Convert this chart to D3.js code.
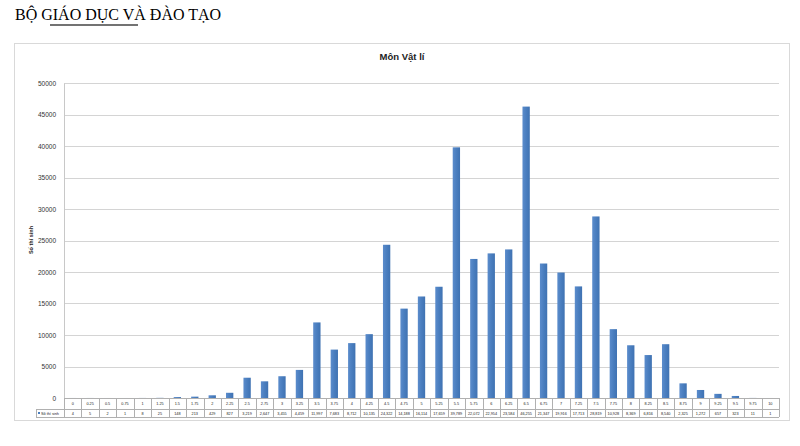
<!DOCTYPE html>
<html><head><meta charset="utf-8">
<script src="https://cdn.jsdelivr.net/npm/d3@7"></script>
<style>body{margin:0;background:#fff;}svg{display:block;}</style>
</head><body>
<svg id="c" width="800" height="446"></svg>
<script>
const categories = ["0","0.25","0.5","0.75","1","1.25","1.5","1.75","2","2.25","2.5","2.75","3","3.25","3.5","3.75","4","4.25","4.5","4.75","5","5.25","5.5","5.75","6","6.25","6.5","6.75","7","7.25","7.5","7.75","8","8.25","8.5","8.75","9","9.25","9.5","9.75","10"];
const counts = [4,5,2,1,8,25,148,213,429,827,3219,2647,3455,4459,11997,7683,8712,10135,24322,14188,16114,17659,39789,22072,22954,23584,46255,21347,19916,17713,28819,10928,8369,6816,8540,2325,1272,657,323,11,1];
const yTicks = [0,5000,10000,15000,20000,25000,30000,35000,40000,45000,50000];
const seriesName = "Số thí sinh";
const chartTitle = "Môn Vật lí";
const header = "BỘ GIÁO DỤC VÀ ĐÀO TẠO";

const svg = d3.select("#c");
const pLeft = 64, pRight = 779, pTop = 83, pBottom = 398;

// header
svg.append("text").attr("x", 15).attr("y", 20).attr("font-family", "Liberation Serif, serif")
  .attr("font-size", 16).attr("fill", "#000").text(header);
svg.append("line").attr("x1", 50).attr("x2", 138).attr("y1", 25).attr("y2", 25)
  .attr("stroke", "#444").attr("stroke-width", 1.3);

// chart box
svg.append("rect").attr("x", 14.5).attr("y", 43.5).attr("width", 775).attr("height", 377)
  .attr("fill", "#fff").attr("stroke", "#d9d9d9").attr("stroke-width", 1);

svg.append("text").attr("x", 402).attr("y", 60).attr("text-anchor", "middle")
  .attr("font-family", "Liberation Sans, Arial, sans-serif").attr("font-size", 9.5)
  .attr("font-weight", "bold").attr("fill", "#222").text(chartTitle);

const x = d3.scaleBand().domain(categories).range([pLeft, pRight]).paddingInner(0.58).paddingOuter(0.29);
const xb = d3.scaleBand().domain(categories).range([pLeft, pRight]);
const y = d3.scaleLinear().domain([0, 50000]).range([pBottom, pTop]);

// gridlines
svg.append("g").selectAll("line").data(yTicks).join("line")
  .attr("x1", pLeft).attr("x2", pRight)
  .attr("y1", d => Math.round(y(d)) + 0.5).attr("y2", d => Math.round(y(d)) + 0.5)
  .attr("stroke", "#d4d4d4").attr("stroke-width", 1);

// y axis
const yAxis = d3.axisLeft(y).tickValues(yTicks).tickSize(0).tickPadding(8).tickFormat(d3.format("d"));
const ga = svg.append("g").attr("transform", `translate(${pLeft},0)`).call(yAxis);
ga.select(".domain").attr("stroke", "#c8c8c8");
ga.selectAll("text").attr("font-family", "Liberation Sans, Arial, sans-serif").attr("font-size", 6.5).attr("fill", "#333");

svg.append("text").attr("transform", `translate(33,240) rotate(-90)`).attr("text-anchor", "middle")
  .attr("font-family", "Liberation Sans, Arial, sans-serif").attr("font-size", 5.5)
  .attr("font-weight", "bold").attr("fill", "#222").text(seriesName);

// gradient for bars
const defs = svg.append("defs");
const grad = defs.append("linearGradient").attr("id", "bg").attr("x1", "0").attr("x2", "1");
grad.append("stop").attr("offset", "0").attr("stop-color", "#5b8ccc");
grad.append("stop").attr("offset", "0.5").attr("stop-color", "#4a7ebf");
grad.append("stop").attr("offset", "1").attr("stop-color", "#3f72b2");

svg.append("g").selectAll("rect").data(counts).join("rect")
  .attr("x", (d, i) => x(categories[i]))
  .attr("width", x.bandwidth())
  .attr("y", d => y(d))
  .attr("height", d => pBottom - y(d))
  .attr("fill", "url(#bg)");

// data table
const rowTop = 398, rowMid = 409, rowBot = 417, legLeft = 36;
const tg = svg.append("g").attr("font-family", "Liberation Sans, Arial, sans-serif").attr("font-size", 3.8).attr("fill", "#222");
tg.append("line").attr("x1", pLeft).attr("x2", pRight).attr("y1", rowTop + 0.5).attr("y2", rowTop + 0.5).attr("stroke", "#b0b0b0");
tg.append("line").attr("x1", legLeft).attr("x2", pRight).attr("y1", rowMid + 0.5).attr("y2", rowMid + 0.5).attr("stroke", "#b0b0b0");
tg.append("line").attr("x1", legLeft).attr("x2", pRight).attr("y1", rowBot + 0.5).attr("y2", rowBot + 0.5).attr("stroke", "#b0b0b0");
tg.append("line").attr("x1", legLeft + 0.5).attr("x2", legLeft + 0.5).attr("y1", rowMid).attr("y2", rowBot).attr("stroke", "#b0b0b0");
tg.selectAll("line.v").data(categories.concat(["end"])).join("line").attr("class", "v")
  .attr("x1", (d, i) => Math.round(pLeft + i * xb.bandwidth()) + 0.5)
  .attr("x2", (d, i) => Math.round(pLeft + i * xb.bandwidth()) + 0.5)
  .attr("y1", rowTop).attr("y2", rowBot).attr("stroke", "#b0b0b0");
tg.selectAll("text.c").data(categories).join("text").attr("class", "c")
  .attr("x", d => xb(d) + xb.bandwidth() / 2).attr("y", rowTop + 7).attr("text-anchor", "middle").text(d => d);
tg.selectAll("text.v").data(counts).join("text").attr("class", "v")
  .attr("x", (d, i) => xb(categories[i]) + xb.bandwidth() / 2).attr("y", rowMid + 6).attr("text-anchor", "middle")
  .text(d => d3.format(",")(d));
tg.append("rect").attr("x", legLeft + 2).attr("y", rowMid + 3).attr("width", 2).attr("height", 2).attr("fill", "#4a7ebf");
tg.append("text").attr("x", legLeft + 5).attr("y", rowMid + 6).text(seriesName);
</script>
</body></html>
